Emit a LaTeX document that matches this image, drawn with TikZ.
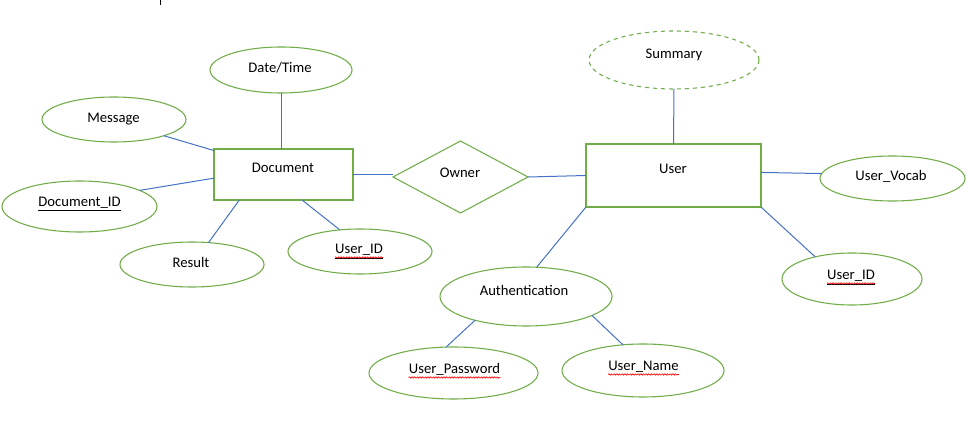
\documentclass[tikz,border=0pt]{standalone}
\usepackage{fontspec}
\setmainfont{Carlito}
\usetikzlibrary{shapes.geometric,decorations.pathmorphing}
\definecolor{egreen}{HTML}{70AD47}
\definecolor{eblue}{HTML}{4472C4}
\begin{document}
\begin{tikzpicture}[x=0.75pt,y=-0.75pt,
  attr/.style={ellipse,draw=egreen,line width=0.8pt,inner sep=0pt,outer sep=0pt},
  ent/.style={rectangle,draw=egreen,line width=0.8pt,inner sep=0pt,outer sep=0pt},
  rel/.style={diamond,draw=egreen,line width=0.8pt,inner sep=0pt,outer sep=0pt},
  lbl/.style={anchor=base,inner sep=0pt,font=\fontsize{11pt}{13pt}\selectfont,text=black},
  link/.style={draw=eblue,line width=0.75pt},
  squig/.style={draw=red,line width=0.5pt,decorate,decoration={snake,amplitude=0.5pt,segment length=2pt}}]
\useasboundingbox (0,0) rectangle (968,427);
\fill[white] (0,0) rectangle (968,427);
% cursor tick
\draw[black,line width=0.6pt] (160,0) -- (160,5);

% entities and relationship
\node[ent,minimum width=104.25pt,minimum height=38.25pt] (doc) at (283.5,174.5) {};
\node[ent,minimum width=131.25pt,minimum height=47.25pt] (user) at (673.5,175.5) {};
\node[rel,minimum width=101.25pt,minimum height=54pt] (owner) at (460.5,177) {};

% attributes
\node[attr,minimum width=106.5pt,minimum height=34.5pt] (dt) at (281,70) {};
\node[attr,minimum width=108pt,minimum height=33.75pt] (msg) at (114,119.5) {};
\node[attr,minimum width=116.25pt,minimum height=38.25pt] (did) at (79.5,206.5) {};
\node[attr,minimum width=108pt,minimum height=33.75pt] (res) at (192,264.5) {};
\node[attr,minimum width=108pt,minimum height=33.75pt] (uidl) at (360,251.5) {};
\node[attr,dashed,minimum width=127.5pt,minimum height=43.5pt] (sum) at (674,60) {};
\node[attr,minimum width=108.75pt,minimum height=33.75pt] (voc) at (892.5,178.5) {};
\node[attr,minimum width=105pt,minimum height=39pt] (uidr) at (852,279) {};
\node[attr,minimum width=129pt,minimum height=44.25pt] (auth) at (526,296.5) {};
\node[attr,minimum width=126.75pt,minimum height=39pt] (upw) at (453.5,373) {};
\node[attr,minimum width=121.5pt,minimum height=39.75pt] (uname) at (643,370.5) {};

% labels
\node[lbl] (docT) at (283,173) {Document};
\node[lbl] (userT) at (673,174) {User};
\node[lbl] (ownerT) at (460,178) {Owner};
\node[lbl] (dtT) at (280,73) {Date/Time};
\node[lbl] (msgT) at (113.5,123) {Message};
\node[lbl] (didT) at (79.5,206.5) {\underline{Document\_ID}};
\node[lbl] (resT) at (191,268) {Result};
\node[lbl] (uidlT) at (359,254) {\underline{User\_ID}};
\node[lbl] (sumT) at (674,59) {Summary};
\node[lbl] (vocT) at (891,181) {User\_Vocab};
\node[lbl] (uidrT) at (851,280) {\underline{User\_ID}};
\node[lbl] (authT) at (524,296) {Authentication};
\node[lbl] (upwT) at (454.5,374) {User\_Password};
\node[lbl] (unameT) at (643.5,371) {User\_Name};

% spell-check squiggles
\foreach \t in {uidlT,uidrT,upwT,unameT}
  \draw[squig] ([yshift=-2.6pt]\t.base west) -- ([yshift=-2.6pt]\t.base east);

% connectors
\draw[link] (dt.south) -- (dt.south |- doc.north);
\draw[link] (msg.-18) -- (doc.161);
\draw[link] (did.15) -- (doc.183);
\draw[link] (res.53) -- (doc.210);
\draw[link] (uidl.133) -- (doc.-54);
\draw[link] (doc.east) -- (doc.east -| owner.west);
\draw[link] (owner.east) -- (user.west);
\draw[link] (sum.south) -- (user.north);
\draw[link] (user.2) -- (voc.176);
\draw[link] (user.south east) -- (uidr.149);
\draw[link] (user.south west) -- (auth.70);
\draw[link] (auth.205) -- (upw.106);
\draw[link] (auth.-16.5) -- (uname.128);
\end{tikzpicture}
\end{document}
